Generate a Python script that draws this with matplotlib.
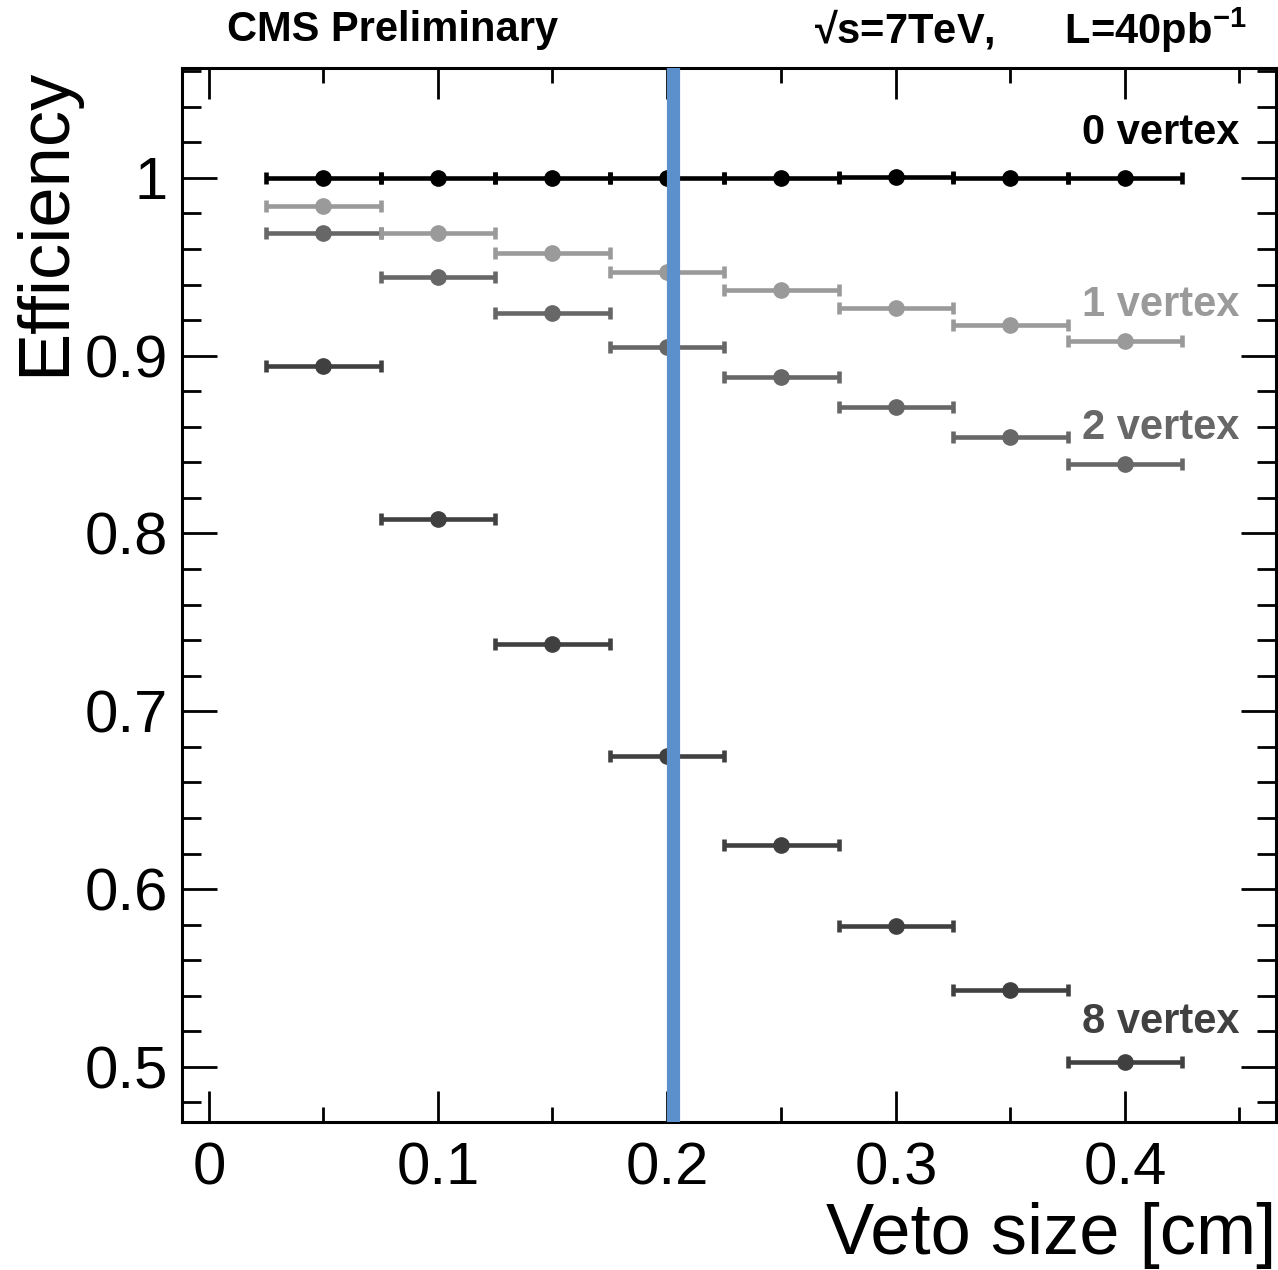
import numpy as np
import matplotlib
matplotlib.use("Agg")
import matplotlib.pyplot as plt
from matplotlib.ticker import MultipleLocator

plt.rcParams['font.family'] = ['Liberation Sans', 'DejaVu Sans']
plt.rcParams['mathtext.fontset'] = 'custom'
plt.rcParams['mathtext.rm'] = 'Liberation Sans'
plt.rcParams['mathtext.bf'] = 'Liberation Sans:bold'
plt.rcParams['mathtext.default'] = 'bf'

# veto size bins (cm)
veto = [0.05, 0.10, 0.15, 0.20, 0.25, 0.30, 0.35, 0.40]
half_width = 0.025

# efficiencies per number of vertices
eff_0vtx = [1.000, 1.000, 1.000, 1.000, 1.000, 1.0005, 1.000, 1.000]
eff_1vtx = [0.984, 0.969, 0.958, 0.947, 0.937, 0.927, 0.917, 0.908]
eff_2vtx = [0.969, 0.944, 0.924, 0.905, 0.888, 0.871, 0.854, 0.839]
eff_8vtx = [0.894, 0.808, 0.738, 0.675, 0.625, 0.579, 0.543, 0.503]

# name, values, colour, label height (axes fraction)
series = [
    ("0 vertex", eff_0vtx, "#000000", 0.938),
    ("1 vertex", eff_1vtx, "#9a9a9a", 0.775),
    ("2 vertex", eff_2vtx, "#676767", 0.658),
    ("8 vertex", eff_8vtx, "#404040", 0.095),
]

chosen_veto = 0.2025

fig = plt.figure(figsize=(12.78, 12.70), dpi=100)
ax = fig.add_axes([0.1424, 0.1165, 0.856, 0.83])

# darkest first so the lighter series sit on top like the original
for name, eff, col, _ in series[::-1]:
    ax.errorbar(veto, eff, xerr=half_width, fmt='o', color=col, ms=11,
                elinewidth=3.3, capsize=4, capthick=3.3, zorder=3)

ax.axvline(chosen_veto, color='#5b90cc', lw=9.5, zorder=5)

for name, eff, col, ypos in series:
    ax.text(0.967, ypos, name, transform=ax.transAxes, ha='right', va='center',
            fontsize=30, fontweight='bold', color=col)

ax.set_xlim(-0.0118, 0.466)
ax.set_ylim(0.469, 1.0618)

ax.xaxis.set_major_locator(MultipleLocator(0.1))
ax.xaxis.set_minor_locator(MultipleLocator(0.05))
ax.yaxis.set_major_locator(MultipleLocator(0.1))
ax.yaxis.set_minor_locator(MultipleLocator(0.02))
ax.xaxis.set_major_formatter(plt.FuncFormatter(lambda v, p: f"{v:g}"))
ax.yaxis.set_major_formatter(plt.FuncFormatter(lambda v, p: f"{v:g}"))

ax.tick_params(which='both', direction='in', top=True, right=True,
               width=2, labelsize=43, colors='black')
ax.tick_params(axis='x', which='major', length=22, pad=14)
ax.tick_params(axis='x', which='minor', length=11)
ax.tick_params(axis='y', which='major', length=25, pad=10)
ax.tick_params(axis='y', which='minor', length=14)
for sp in ax.spines.values():
    sp.set_linewidth(2.2)

ax.set_xlabel("Veto size [cm]", fontsize=52, loc='right', labelpad=4)
ax.set_ylabel("Efficiency", fontsize=52, loc='top', labelpad=4)

fig.text(0.178, 0.976, "CMS Preliminary", fontsize=30, fontweight='bold',
         ha='left', va='center')
fig.text(0.975, 0.976, "\u221as=7TeV,      L=40pb$^{-1}$", fontsize=30,
         fontweight='bold', ha='right', va='center')

fig.savefig("out.png", dpi=100)
